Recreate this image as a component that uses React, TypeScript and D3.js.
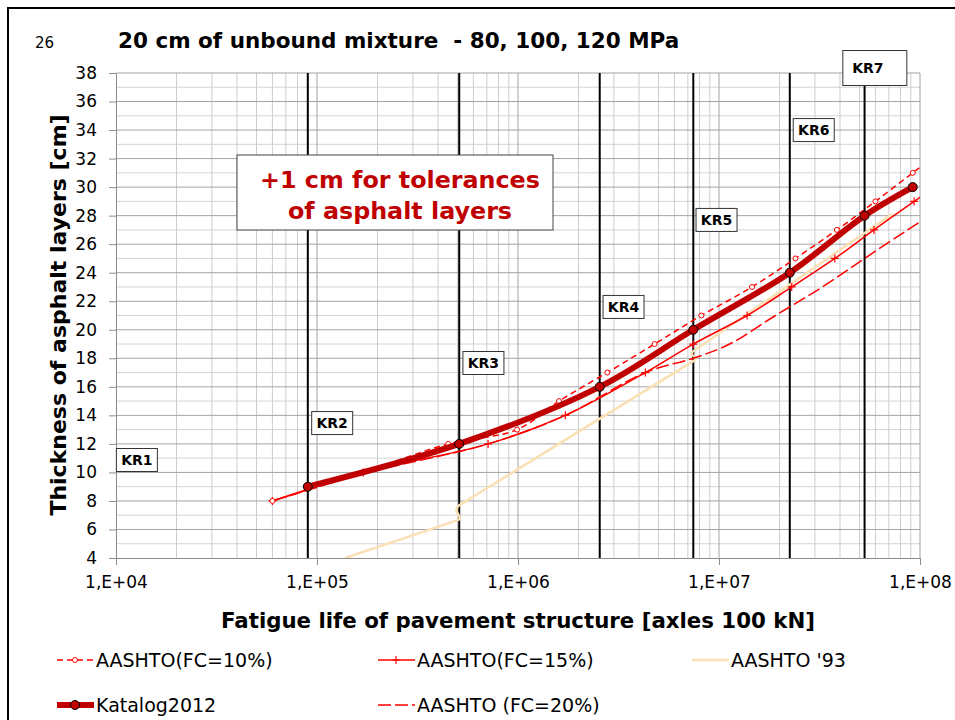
import React, { useEffect, useRef } from "react";
import * as d3 from "d3";

// fatigue life [axles 100 kN] and thickness [cm]
const katalogLife = [9.0e4, 5.1e5, 2.55e6, 7.45e6, 2.25e7, 5.3e7, 9.2e7];
const katalogThick = [9, 12, 16, 20, 24, 28, 30];

const fc10Life = [6.0e4, 1.7e5, 4.5e5, 9.9e5, 1.6e6, 2.78e6, 4.78e6, 8.17e6, 1.46e7, 2.4e7, 3.86e7, 6.0e7, 9.2e7, 1.3e8];
const fc10Thick = [8, 10, 12, 13, 15, 17, 19, 21, 23, 25, 27, 29, 31, 32.6];

const fc15Life = [6.0e4, 1.7e5, 7.1e5, 1.72e6, 4.3e6, 7.45e6, 1.38e7, 2.3e7, 3.77e7, 5.9e7, 9.35e7, 1.3e8];
const fc15Thick = [8, 10, 12, 14, 17, 19, 21, 23, 25, 27, 29, 30.4];

const fc20Life = [6.0e4, 1.8e5, 7.1e5, 1.72e6, 4.3e6, 7.45e6, 1.13e7, 1.91e7, 3.27e7, 5.3e7, 8.67e7, 1.3e8];
const fc20Thick = [8, 10, 12, 14, 17, 18, 19, 21, 23, 25, 27, 28.6];

const a93Life = [1.38e5, 5.1e5, 5.1e5, 7.45e6, 7.45e6, 7.25e7];
const a93Thick = [4, 6.7, 7.7, 17.8, 18.5, 28.1];

// traffic classes: boundaries and label positions
const krNames = ["KR1", "KR2", "KR3", "KR4", "KR5", "KR6", "KR7"];
const krBounds = [9.0e4, 5.1e5, 2.55e6, 7.45e6, 2.25e7, 5.3e7];
const krLabelLife = [1.27e4, 1.19e5, 6.73e5, 3.35e6, 9.72e6, 2.96e7, 5.96e7];
const krLabelThick = [10.87, 13.46, 17.67, 21.6, 27.7, 34.0, 38.35];

const yTicks = d3.range(4, 39, 2);
const xTicks = [1e4, 1e5, 1e6, 1e7, 1e8];

const W = 955;
const H = 720;
const plot = { left: 116, right: 920, top: 73, bottom: 558 };
const FONT = "'DejaVu Sans', sans-serif";

export default function App() {
  const svgRef = useRef<SVGSVGElement>(null);

  useEffect(() => {
    const svg = d3.select(svgRef.current);
    svg.selectAll("*").remove();

    const x = d3.scaleLog().domain([1e4, 1e8]).range([plot.left, plot.right]);
    const y = d3.scaleLinear().domain([4, 38]).range([plot.bottom, plot.top]);

    svg.append("rect").attr("width", W).attr("height", H).attr("fill", "#fff");
    // outer frame of the slide
    svg
      .append("rect")
      .attr("x", 8)
      .attr("y", 8)
      .attr("width", W + 20)
      .attr("height", H + 20)
      .attr("fill", "none")
      .attr("stroke", "#000")
      .attr("stroke-width", 2);

    svg
      .append("defs")
      .append("clipPath")
      .attr("id", "plotClip")
      .append("rect")
      .attr("x", plot.left)
      .attr("y", plot.top)
      .attr("width", plot.right - plot.left)
      .attr("height", plot.bottom - plot.top);

    // grid
    const grid = svg.append("g");
    const minorX: number[] = [];
    for (let d = 1e4; d < 1e8; d *= 10) for (let m = 2; m <= 9; m++) minorX.push(d * m);
    grid
      .selectAll(".hminor")
      .data(d3.range(5, 38, 2))
      .join("line")
      .attr("x1", plot.left)
      .attr("x2", plot.right)
      .attr("y1", (d) => y(d))
      .attr("y2", (d) => y(d))
      .attr("stroke", "#d4d4d4");
    grid
      .selectAll(".vminor")
      .data(minorX)
      .join("line")
      .attr("x1", (d) => x(d))
      .attr("x2", (d) => x(d))
      .attr("y1", plot.top)
      .attr("y2", plot.bottom)
      .attr("stroke", "#cdcdcd");
    grid
      .selectAll(".hmajor")
      .data(yTicks.slice(1))
      .join("line")
      .attr("x1", plot.left)
      .attr("x2", plot.right)
      .attr("y1", (d) => y(d))
      .attr("y2", (d) => y(d))
      .attr("stroke", "#a3a3a3");
    grid
      .selectAll(".vmajor")
      .data(xTicks.slice(1))
      .join("line")
      .attr("x1", (d) => x(d))
      .attr("x2", (d) => x(d))
      .attr("y1", plot.top)
      .attr("y2", plot.bottom)
      .attr("stroke", "#a3a3a3");

    // axes
    const yAxis = svg
      .append("g")
      .attr("transform", `translate(${plot.left},0)`)
      .call(d3.axisLeft(y).tickValues(yTicks).tickSize(7).tickPadding(12).tickSizeOuter(0));
    const xAxis = svg
      .append("g")
      .attr("transform", `translate(0,${plot.bottom})`)
      .call(
        d3
          .axisBottom(x)
          .tickValues(xTicks)
          .tickSize(7)
          .tickPadding(11)
          .tickSizeOuter(0)
          .tickFormat((d) => `1,E+${String(Math.round(Math.log10(+d))).padStart(2, "0")}`)
      );
    [yAxis, xAxis].forEach((ax) => {
      ax.selectAll("path,line").attr("stroke", "#8c8c8c");
      ax.selectAll("text").attr("fill", "#000").attr("font-family", FONT).attr("font-size", 17);
    });

    // KR class boundaries
    svg
      .append("g")
      .selectAll("line")
      .data(krBounds)
      .join("line")
      .attr("x1", (d) => x(d))
      .attr("x2", (d) => x(d))
      .attr("y1", plot.top)
      .attr("y2", plot.bottom)
      .attr("stroke", "#000")
      .attr("stroke-width", 2);

    const smooth = d3.curveCatmullRom.alpha(0.5);
    const stiff = d3.curveCardinal.tension(0.8);
    const series = [
      { name: "AASHTO '93", life: a93Life, thick: a93Thick, color: "#FAE0B4", width: 2.5, dash: null, marker: "none", curve: stiff },
      { name: "AASHTO (FC=20%)", life: fc20Life, thick: fc20Thick, color: "#FF0000", width: 1.5, dash: "13,4", marker: "none", curve: smooth },
      { name: "AASHTO(FC=15%)", life: fc15Life, thick: fc15Thick, color: "#FF0000", width: 1.5, dash: null, marker: "plus", curve: smooth },
      { name: "AASHTO(FC=10%)", life: fc10Life, thick: fc10Thick, color: "#FF0000", width: 1.5, dash: "6,4", marker: "circle", curve: smooth },
      { name: "Katalog2012", life: katalogLife, thick: katalogThick, color: "#C00000", width: 6, dash: null, marker: "dot", curve: smooth },
    ];

    const drawMarker = (g: any, kind: string, color: string, cx: number, cy: number) => {
      if (kind === "circle")
        g.append("circle").attr("cx", cx).attr("cy", cy).attr("r", 2.5).attr("fill", "#fff").attr("stroke", color).attr("stroke-width", 1);
      if (kind === "plus")
        g.append("path")
          .attr("d", `M${cx - 4},${cy}H${cx + 4}M${cx},${cy - 4}V${cy + 4}`)
          .attr("stroke", color)
          .attr("stroke-width", 1.2);
      if (kind === "dot")
        g.append("circle").attr("cx", cx).attr("cy", cy).attr("r", 4.5).attr("fill", color).attr("stroke", "#000").attr("stroke-width", 1);
    };

    const data = svg.append("g").attr("clip-path", "url(#plotClip)");
    series.forEach((s) => {
      const pts = s.life.map((v, i) => [x(v), y(s.thick[i])] as [number, number]);
      data
        .append("path")
        .attr("d", d3.line().curve(s.curve)(pts))
        .attr("fill", "none")
        .attr("stroke", s.color)
        .attr("stroke-width", s.width)
        .attr("stroke-dasharray", s.dash)
        .attr("stroke-linejoin", "round");
      pts.forEach(([px, py]) => drawMarker(data, s.marker, s.color, px, py));
    });

    // KR labels
    const kr = svg.append("g");
    krNames.forEach((name, i) => {
      const cx = x(krLabelLife[i]);
      const cy = y(krLabelThick[i]);
      const big = name === "KR7";
      const w = big ? 64 : 41;
      const h = big ? 35 : 23;
      kr.append("rect")
        .attr("x", cx - w / 2)
        .attr("y", cy - h / 2)
        .attr("width", w)
        .attr("height", h)
        .attr("fill", "#fff")
        .attr("stroke", "#333")
        .attr("stroke-width", 1);
      kr.append("text")
        .attr("x", big ? cx - 7 : cx)
        .attr("y", cy)
        .attr("text-anchor", "middle")
        .attr("dominant-baseline", "central")
        .attr("font-family", FONT)
        .attr("font-weight", "bold")
        .attr("font-size", 14)
        .text(name);
    });

    // tolerance note
    svg
      .append("rect")
      .attr("x", 237)
      .attr("y", 155)
      .attr("width", 316)
      .attr("height", 75)
      .attr("fill", "#fff")
      .attr("stroke", "#444")
      .attr("stroke-width", 1);
    ["+1 cm for tolerances", "of asphalt layers"].forEach((t, i) => {
      svg
        .append("text")
        .attr("x", 400)
        .attr("y", 180 + i * 31)
        .attr("text-anchor", "middle")
        .attr("dominant-baseline", "central")
        .attr("font-family", FONT)
        .attr("font-weight", "bold")
        .attr("font-size", 23.8)
        .attr("fill", "#C00000")
        .text(t);
    });

    // titles
    svg.append("text").attr("x", 35).attr("y", 48).attr("font-family", FONT).attr("font-size", 15).text("26");
    svg
      .append("text")
      .attr("x", 118)
      .attr("y", 48)
      .attr("font-family", FONT)
      .attr("font-weight", "bold")
      .attr("font-size", 21.5)
      .attr("xml:space", "preserve")
      .text("20 cm of unbound mixture  - 80, 100, 120 MPa");
    svg
      .append("text")
      .attr("x", 518)
      .attr("y", 628)
      .attr("text-anchor", "middle")
      .attr("font-family", FONT)
      .attr("font-weight", "bold")
      .attr("font-size", 21.3)
      .text("Fatigue life of pavement structure [axles 100 kN]");
    svg
      .append("text")
      .attr("transform", "translate(66,315) rotate(-90)")
      .attr("text-anchor", "middle")
      .attr("font-family", FONT)
      .attr("font-weight", "bold")
      .attr("font-size", 22)
      .text("Thickness of asphalt layers [cm]");

    // legend
    const legendOrder = ["AASHTO(FC=10%)", "AASHTO(FC=15%)", "AASHTO '93", "Katalog2012", "AASHTO (FC=20%)"];
    const legendPos = [
      [57, 660],
      [378, 660],
      [692, 660],
      [57, 705],
      [378, 705],
    ];
    const lg = svg.append("g");
    legendOrder.forEach((name, i) => {
      const s = series.find((d) => d.name === name)!;
      const [lx, ly] = legendPos[i];
      lg.append("line")
        .attr("x1", lx)
        .attr("x2", lx + 37)
        .attr("y1", ly)
        .attr("y2", ly)
        .attr("stroke", s.color)
        .attr("stroke-width", s.width)
        .attr("stroke-dasharray", s.dash);
      drawMarker(lg, s.marker, s.color, lx + 18, ly);
      lg.append("text")
        .attr("x", lx + 39)
        .attr("y", ly)
        .attr("dominant-baseline", "central")
        .attr("font-family", FONT)
        .attr("font-size", 19)
        .text(name);
    });
  }, []);

  return (
    <svg
      ref={svgRef}
      width={W}
      height={H}
      style={{ position: "absolute", left: 0, top: 0, display: "block" }}
    />
  );
}
